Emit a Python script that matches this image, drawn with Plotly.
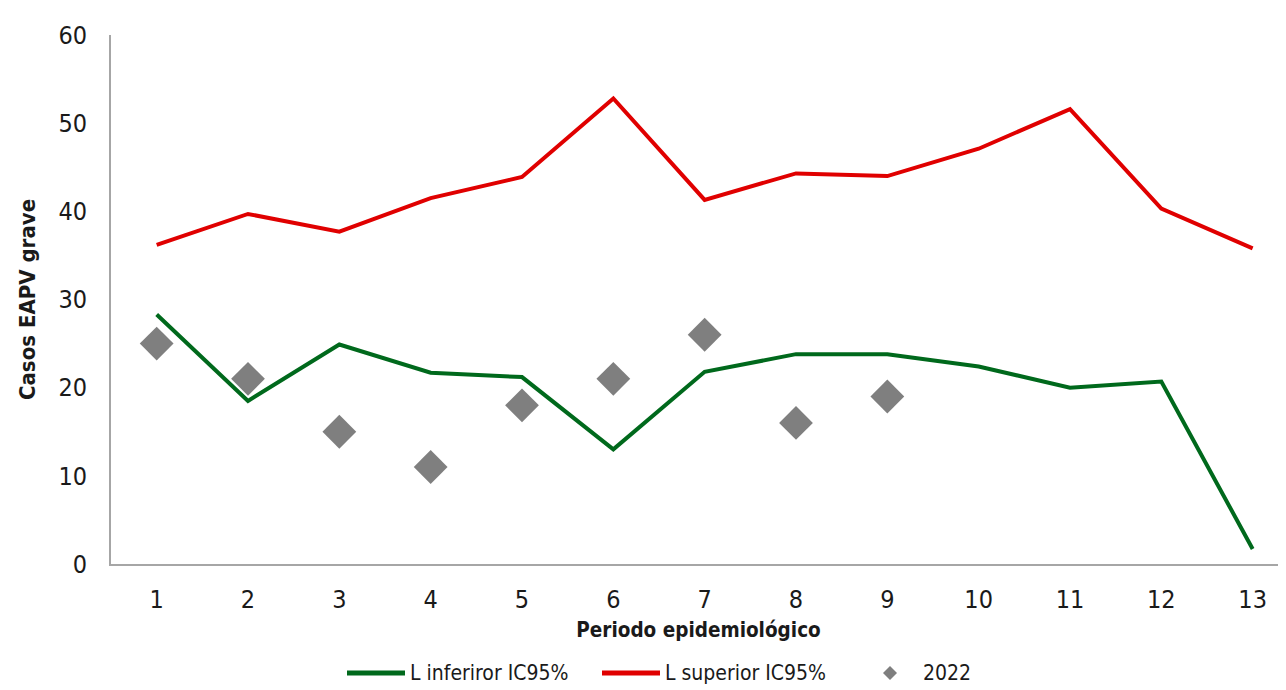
import plotly.graph_objects as go

periodos = list(range(1, 14))
inferior = [28.3, 18.5, 24.9, 21.7, 21.2, 13.0, 21.8, 23.8, 23.8, 22.4, 20.0, 20.7, 1.7]
superior = [36.2, 39.7, 37.7, 41.5, 43.9, 52.8, 41.3, 44.3, 44.0, 47.1, 51.6, 40.3, 35.8]
periodos_2022 = [1, 2, 3, 4, 5, 6, 7, 8, 9]
casos_2022 = [25, 21, 15, 11, 18, 21, 26, 16, 19]

FONT = "DejaVu Sans Condensed, Liberation Sans Narrow, Liberation Sans, Arial, sans-serif"
GREEN = "#00691c"
RED = "#e00000"
GRAY = "#7f7f7f"
TXT = "#1a1a1a"

OFF = 8  # page body margin
W, H = 1286 - OFF, 690 - OFF
L, T = 111 - OFF, 35 - OFF
R, B = 0, H - (564 - OFF)
PW, PH = W - L - R, H - T - B


def px(xpage):
    return (xpage - OFF - L) / PW


def py(ypage):
    return (H - B - (ypage - OFF)) / PH


fig = go.Figure()
fig.add_trace(go.Scatter(x=periodos, y=inferior, mode="lines", name="L inferiror IC95%",
                         line=dict(color=GREEN, width=4)))
fig.add_trace(go.Scatter(x=periodos, y=superior, mode="lines", name="L superior IC95%",
                         line=dict(color=RED, width=4)))
fig.add_trace(go.Scatter(x=periodos_2022, y=casos_2022, mode="markers", name="2022",
                         marker=dict(symbol="diamond", size=26, color=GRAY)))

# custom legend
ly = 673
legend_items = [
    ("line", GREEN, 347, 405, 410, "L inferiror IC95%"),
    ("line", RED, 602, 660, 665, "L superior IC95%"),
    ("diamond", GRAY, 883, 897, 923, "2022"),
]
annotations = []
for kind, col, a, b, tx, label in legend_items:
    if kind == "line":
        fig.add_shape(type="line", xref="paper", yref="paper", x0=px(a), x1=px(b),
                      y0=py(ly), y1=py(ly), line=dict(color=col, width=5))
    else:
        cx = (a + b) / 2
        hw = 7
        path = (f"M {px(cx - hw)} {py(ly)} L {px(cx)} {py(ly - hw)} "
                f"L {px(cx + hw)} {py(ly)} L {px(cx)} {py(ly + hw)} Z")
        fig.add_shape(type="path", xref="paper", yref="paper", path=path,
                      fillcolor=col, line_width=0)
    annotations.append(dict(text=label, xref="paper", yref="paper", x=px(tx - 2), y=py(ly),
                            xanchor="left", yanchor="middle", showarrow=False,
                            font=dict(size=21, color=TXT)))

fig.update_layout(
    width=W, height=H,
    margin=dict(l=L, r=R, t=T, b=B, autoexpand=False),
    plot_bgcolor="white", paper_bgcolor="white",
    font=dict(family=FONT, size=25, color=TXT),
    showlegend=False,
    annotations=annotations,
    xaxis=dict(range=[0.5, 13.365], tickmode="array", tickvals=periodos,
               showgrid=False, zeroline=False, showline=True, linecolor="#a6a6a6", linewidth=2,
               ticks="", ticklabelstandoff=12,
               title=dict(text="<b>Periodo epidemiológico</b>", font=dict(size=20.5), standoff=10)),
    yaxis=dict(range=[0, 60], tickvals=[0, 10, 20, 30, 40, 50, 60],
               showgrid=False, zeroline=False, showline=True, linecolor="#a6a6a6", linewidth=2,
               ticks="", ticklabelstandoff=17,
               title=dict(text="<b>Casos EAPV grave</b>", font=dict(size=22), standoff=17)),
)

fig.write_html("out.html")
